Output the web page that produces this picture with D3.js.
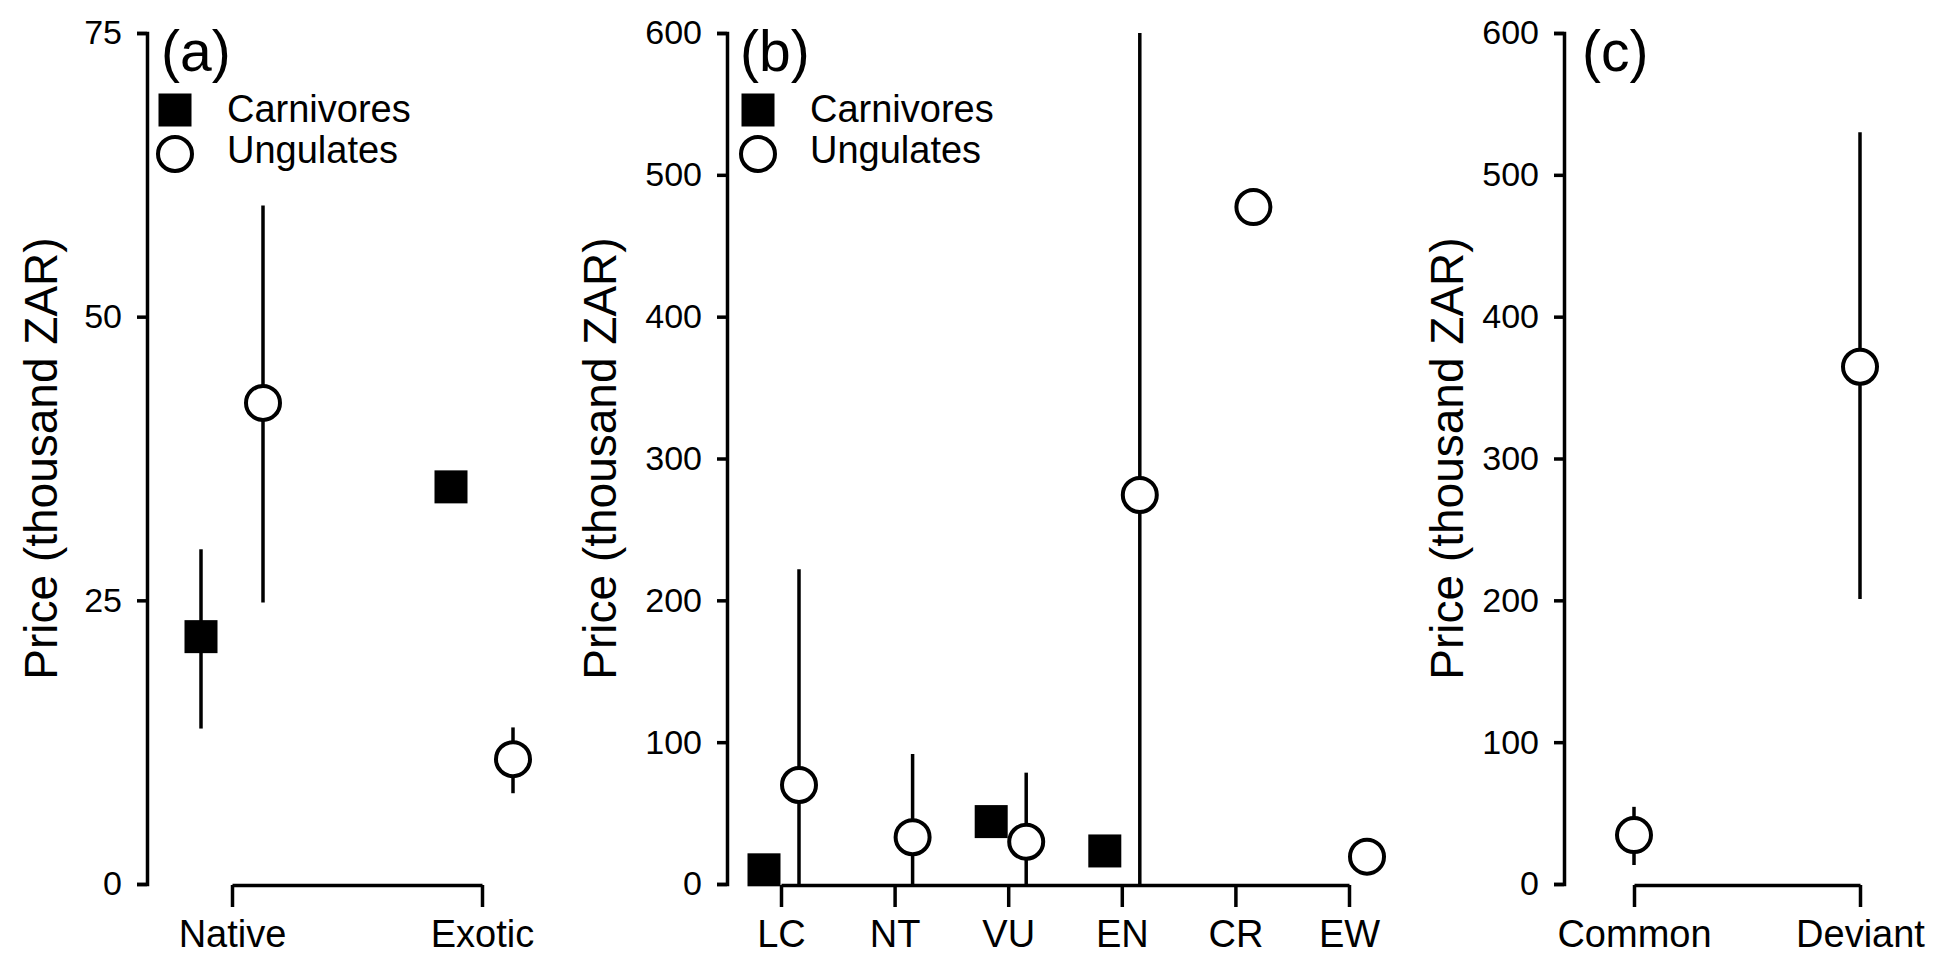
<!DOCTYPE html>
<html>
<head>
<meta charset="utf-8">
<script src="https://d3js.org/d3.v7.min.js"></script>
<style>
  body { margin: 0; background: #fff; }
  svg text { font-family: "Liberation Sans", Arial, Helvetica, sans-serif; fill: #000; }
</style>
</head>
<body>
<div id="container"></div>
<script>
//panel (a): origin of the species
var originCats = ["Native", "Exotic"];
var originCarn = [21.8, 35.0];
var originCarnLow = [13.7, null];
var originCarnHigh = [29.5, null];
var originUng = [42.4, 11.0];
var originUngLow = [24.8, 8.0];
var originUngHigh = [59.8, 13.8];
var originTicks = [0, 25, 50, 75];

//panel (b): IUCN status
var statusCats = ["LC", "NT", "VU", "EN", "CR", "EW"];
var statusCarn = [10, null, 44, 23.3, null, null];
var statusUng = [69.8, 33, 29.8, 274.3, 477.3, 19.3];
var statusUngLow = [0, 0, 0, 0, null, null];
var statusUngHigh = [222, 91.7, 78.5, 600, null, null];
var statusTicks = [0, 100, 200, 300, 400, 500, 600];

//panel (c): colour variants
var variantCats = ["Common", "Deviant"];
var variantUng = [34.5, 364.7];
var variantUngLow = [13.4, 201];
var variantUngHigh = [54.4, 530];
var variantTicks = [0, 100, 200, 300, 400, 500, 600];

var yLabel = "Price (thousand ZAR)";

var w = 1936, h = 956;
var yTop = 33, yBottom = 884;
var sq = 33, rad = 17;
var lineW = 3.5;

var svg = d3.select('#container')
	.append('svg')
	.attr('width', w)
	.attr('height', h);

//*** draw one panel with its axes, marks and legend ***//
function drawPanel(p) {
	var g = svg.append('g');

	var y = d3.scaleLinear()
		.domain([0, p.ticks[p.ticks.length - 1]])
		.range([yBottom, yTop]);

	var x = d3.scalePoint()
		.domain(p.cats)
		.range([p.xFirst, p.xLast]);

	//y axis, R style
	var yAxis = g.append('g')
		.attr('transform', 'translate(' + p.axisX + ',0)')
		.call(d3.axisLeft(y).tickValues(p.ticks).tickSize(10).tickSizeOuter(10).tickPadding(15));
	yAxis.selectAll('path, line').attr('stroke', '#000').attr('stroke-width', lineW);
	yAxis.selectAll('text').style('font-size', '34px');

	//x axis bracket
	var xAxis = g.append('g')
		.attr('transform', 'translate(0,' + (yBottom + 1) + ')')
		.call(d3.axisBottom(x).tickSize(22).tickSizeOuter(0).tickPadding(13));
	xAxis.selectAll('path, line').attr('stroke', '#000').attr('stroke-width', lineW);
	xAxis.selectAll('text').style('font-size', '38px');

	//axis title
	g.append('text')
		.attr('transform', 'translate(' + p.labelX + ',' + ((yTop + yBottom) / 2) + ') rotate(-90)')
		.attr('text-anchor', 'middle')
		.style('font-size', '46px')
		.text(yLabel);

	//panel letter
	g.append('text')
		.attr('x', p.letterX)
		.attr('y', 71)
		.style('font-size', '57px')
		.text(p.letter);

	var idx = d3.range(p.cats.length);

	//carnivores: bars then squares
	if (p.carn) {
		g.selectAll('.carnBar')
			.data(idx.filter(function(i) { return p.carnLow && p.carnLow[i] != null; }))
			.enter()
			.append('line')
			.attr('x1', function(i) { return x(p.cats[i]) + p.carnOff; })
			.attr('x2', function(i) { return x(p.cats[i]) + p.carnOff; })
			.attr('y1', function(i) { return y(p.carnLow[i]); })
			.attr('y2', function(i) { return y(p.carnHigh[i]); })
			.attr('stroke', '#000')
			.attr('stroke-width', lineW);

		g.selectAll('.carnPt')
			.data(idx.filter(function(i) { return p.carn[i] != null; }))
			.enter()
			.append('rect')
			.attr('x', function(i) { return x(p.cats[i]) + p.carnOff - sq / 2; })
			.attr('y', function(i) { return y(p.carn[i]) - sq / 2; })
			.attr('width', sq)
			.attr('height', sq)
			.attr('fill', '#000');
	}

	//ungulates: bars then open circles
	g.selectAll('.ungBar')
		.data(idx.filter(function(i) { return p.ungLow[i] != null; }))
		.enter()
		.append('line')
		.attr('x1', function(i) { return x(p.cats[i]) + p.ungOff; })
		.attr('x2', function(i) { return x(p.cats[i]) + p.ungOff; })
		.attr('y1', function(i) { return y(p.ungLow[i]); })
		.attr('y2', function(i) { return y(p.ungHigh[i]); })
		.attr('stroke', '#000')
		.attr('stroke-width', lineW);

	g.selectAll('.ungPt')
		.data(idx)
		.enter()
		.append('circle')
		.attr('cx', function(i) { return x(p.cats[i]) + p.ungOff; })
		.attr('cy', function(i) { return y(p.ung[i]); })
		.attr('r', rad)
		.attr('fill', '#fff')
		.attr('stroke', '#000')
		.attr('stroke-width', 4);

	//legend
	if (p.legendX) {
		g.append('rect')
			.attr('x', p.legendX - sq / 2)
			.attr('y', 110 - sq / 2)
			.attr('width', sq)
			.attr('height', sq)
			.attr('fill', '#000');
		g.append('circle')
			.attr('cx', p.legendX)
			.attr('cy', 154)
			.attr('r', rad)
			.attr('fill', '#fff')
			.attr('stroke', '#000')
			.attr('stroke-width', 4);
		g.append('text')
			.attr('x', p.legendTextX)
			.attr('y', 122)
			.style('font-size', '38px')
			.text('Carnivores');
		g.append('text')
			.attr('x', p.legendTextX)
			.attr('y', 163)
			.style('font-size', '38px')
			.text('Ungulates');
	}
}

drawPanel({
	cats: originCats, ticks: originTicks,
	axisX: 147, xFirst: 232, xLast: 482, labelX: 57,
	letter: '(a)', letterX: 161,
	carn: originCarn, carnLow: originCarnLow, carnHigh: originCarnHigh, carnOff: -31,
	ung: originUng, ungLow: originUngLow, ungHigh: originUngHigh, ungOff: 31,
	legendX: 175, legendTextX: 227
});

drawPanel({
	cats: statusCats, ticks: statusTicks,
	axisX: 727, xFirst: 781, xLast: 1349, labelX: 616,
	letter: '(b)', letterX: 740,
	carn: statusCarn, carnLow: null, carnHigh: null, carnOff: -17,
	ung: statusUng, ungLow: statusUngLow, ungHigh: statusUngHigh, ungOff: 18,
	legendX: 758, legendTextX: 810
});

drawPanel({
	cats: variantCats, ticks: variantTicks,
	axisX: 1564, xFirst: 1634, xLast: 1860, labelX: 1463,
	letter: '(c)', letterX: 1582,
	carn: null, carnOff: 0,
	ung: variantUng, ungLow: variantUngLow, ungHigh: variantUngHigh, ungOff: 0
});
</script>
</body>
</html>
